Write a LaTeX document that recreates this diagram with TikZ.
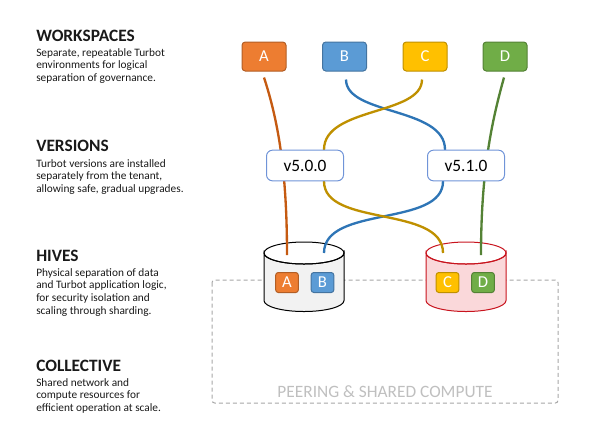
\documentclass[tikz,border=0pt]{standalone}
\usepackage{fontspec}
\setmainfont{Carlito}
\usetikzlibrary{calc,backgrounds}
\definecolor{turbotA}{RGB}{237,125,49}
\definecolor{turbotB}{RGB}{91,155,213}
\definecolor{turbotC}{RGB}{255,192,0}
\definecolor{turbotD}{RGB}{112,173,71}
\def\turbotedgefactor{25}
\colorlet{turbotA1}{black!\turbotedgefactor!turbotA}
\colorlet{turbotB1}{black!\turbotedgefactor!turbotB}
\colorlet{turbotC1}{black!\turbotedgefactor!turbotC}
\colorlet{turbotD1}{black!\turbotedgefactor!turbotD}
\definecolor{turbotA2}{RGB}{197,90,17}
\definecolor{turbotB2}{RGB}{46,117,182}
\definecolor{turbotC2}{RGB}{191,144,0}
\definecolor{turbotD2}{RGB}{84,130,53}
\definecolor{verblue}{RGB}{112,148,216}
\definecolor{hiveL}{RGB}{242,242,242}
\definecolor{hiveR}{RGB}{250,216,218}
\definecolor{hiveRd}{RGB}{200,20,30}

\begin{document}
\begin{tikzpicture} [x=0.75pt, y=-0.75pt, %
  wsbox/.style={rectangle, rounded corners=2.5pt, minimum width=33pt, minimum height=21.75pt, %
    inner sep=0pt, line width=0.75pt, text=white, font=\fontsize{12.5}{14}\selectfont}, %
  hbox/.style={wsbox, rounded corners=2pt, minimum width=17pt, minimum height=15pt}, %
  verbox/.style={rectangle, rounded corners=4.5pt, draw=verblue, fill=white, line width=0.75pt, %
    minimum width=57.75pt, minimum height=23pt, inner sep=0pt, font=\fontsize{13}{15}\selectfont}, %
  head/.style={anchor=base west, inner sep=0pt, text=black!90, font=\fontsize{13}{15}\selectfont\bfseries}, %
  desc/.style={anchor=north west, inner sep=0pt, align=left, text=black!90, font=\fontsize{8.5}{9.6}\selectfont}, %
  link/.style={line width=1.75pt}] %
\useasboundingbox (0,0) rectangle (605,430); %
 %
\node [head] (wsT) at (36,41) {WORKSPACES}; %
\node [desc] (wsTxt) at (36,48) {Separate, repeatable Turbot\\environments for logical\\separation of governance.}; %
\node [head] (verT) at (36,151) {VERSIONS}; %
\node [desc] (verTxt) at (36,159) {Turbot versions are installed\\separately from the tenant,\\allowing safe, gradual upgrades.}; %
\node [head] (hiveT) at (36,261) {HIVES}; %
\node [desc] (hiveTxt) at (36,268) {Physical separation of data\\and Turbot application logic,\\for security isolation and\\scaling through sharding.}; %
\node [head] (colT) at (36,371) {COLLECTIVE}; %
\node [desc] (colTxt) at (36,378) {Shared network and\\compute resources for\\efficient operation at scale.}; %
 %
\foreach \n/\x in {A/264,B/344.5,C/425,D/505} %
  \node [wsbox, fill=turbot\n, draw=turbot\n1] (ws\n) at (\x,56.5) {\n}; %
\node [verbox] (v500) at (305,165.5) {v5.0.0}; %
\node [verbox] (v510) at (466,165.5) {v5.1.0}; %
\foreach \n/\x in {A/287,B/322.5,C/447.5,D/483} %
  \node [hbox, fill=turbot\n, draw=turbot\n1] (h\n) at (\x,282.5) {\n}; %
\coordinate (hive1) at (304,253); %
\coordinate (hive2) at (466,253); %
\node [anchor=base, inner sep=0pt, text=black!25, font=\fontsize{13}{15}\selectfont] (peerT) at (385,397) {PEERING \& SHARED COMPUTE}; %
 %
\begin{scope}[on background layer] %
  \draw [black!35, line width=0.75pt, dash pattern=on 3pt off 2.25pt, rounded corners=2pt] (212,280) rectangle (558,403); %
  \foreach \h/\fc/\dc in {hive1/hiveL/black, hive2/hiveR/hiveRd} { %
    \filldraw [fill=\fc, draw=\dc, line width=0.75pt] ($(\h)+(-40,0)$) -- ++(0,47.5) %
      arc [start angle=180, end angle=0, x radius=40, y radius=11] -- ++(0,-47.5) %
      arc [start angle=0, end angle=180, x radius=40, y radius=11] -- cycle; %
    \draw [draw=\dc, line width=0.75pt] (\h) ellipse [x radius=40, y radius=11]; %
  } %
  \draw [link, turbotA2] ($(wsA.south)+(0,6)$) .. controls +(14,43) and +(0,-85) .. ($(hA.north)+(0,-17)$); %
  \draw [link, turbotD2] ($(wsD.south)+(-1,6)$) .. controls +(-12,43) and +(0,-85) .. ($(hD.north)+(-2,-17)$); %
  \draw [link, turbotB2] ($(wsB.south)+(1.5,8)$) .. controls +(0,36) and +(0,-43) .. ($(v510.north)+(-21,0)$) %
    -- ($(v510.south)+(-23,0)$) .. controls +(0,46) and +(0,-48) .. ($(hB.north)+(1.5,-19)$); %
  \draw [link, turbotC2] ($(wsC.south)+(-3,8)$) .. controls +(0,36) and +(0,-43) .. ($(v500.north)+(19,0)$) %
    -- ($(v500.south)+(19,0)$) .. controls +(0,46) and +(0,-48) .. ($(hC.north)+(-4.5,-19)$); %
\end{scope} %
\end{tikzpicture}
\end{document}
